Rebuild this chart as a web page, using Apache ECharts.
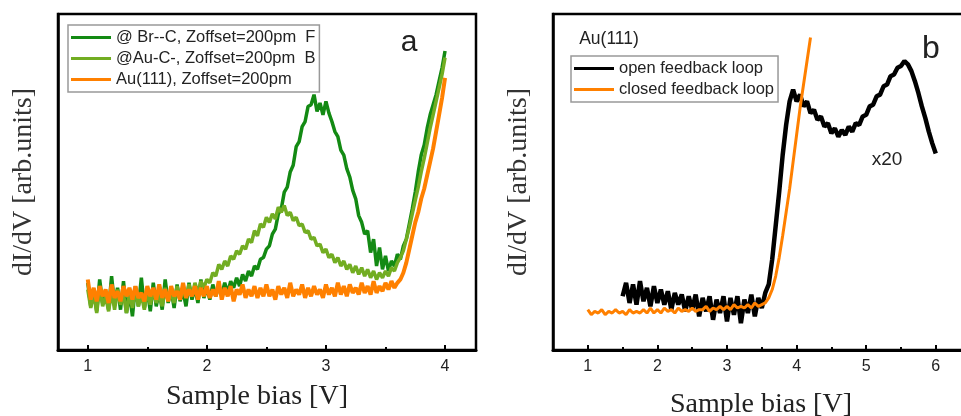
<!DOCTYPE html>
<html>
<head>
<meta charset="utf-8">
<script src="https://cdn.jsdelivr.net/npm/echarts@6/dist/echarts.min.js"></script>
<style>
  html, body { margin: 0; padding: 0; background: #fff; }
  #chart { width: 961px; height: 416px; }
</style>
</head>
<body>
<div id="chart"></div>
<script>
// panel a: bias grid 1.000 .. 4.000 V, step 0.025 V
const biasStartA = 1.0;
const biasStepA = 0.025;
const brC = [
  20, 13, 18, 11.5, 21, 14, 17, 12, 22, 13.5, 18.5, 12, 20.5, 11, 17, 10, 19, 13, 21.5, 12.5,
  18, 11.5, 20, 13, 17.5, 12, 21, 14, 18, 12.5, 19.5, 14.5, 17.5, 13, 20, 15, 18.5, 14, 21, 15.5,
  18.5, 15, 19.5, 16, 19, 16.5, 20, 17, 20.5, 18.5, 21.5, 19, 22.5, 20.5, 23.5, 22, 25, 24, 27, 27.5,
  30, 31, 34.5, 36, 40.5, 42, 47, 48.5, 53, 55, 60.5, 62, 66.5, 68, 72.5, 73, 76, 71, 73.5, 70,
  74, 70.5, 68, 65, 63.5, 59.5, 58, 54, 51.5, 47.5, 45, 40, 38, 34.5, 35.5, 29, 33, 25, 30.5, 24,
  28, 23.5, 26.5, 25, 28.5, 27, 31, 33, 37.5, 42, 47, 53, 58, 61, 66, 70, 73, 76, 80, 84, 89
];
const auC = [
  18, 12.5, 17, 11, 18.5, 13, 16, 11.5, 17.5, 12, 18, 13.5, 16.5, 11, 17, 12.5, 18, 13, 16.5, 12,
  17.5, 13.5, 18, 14, 16.5, 13, 18.5, 14.5, 17, 14, 19, 15, 18, 15.5, 19.5, 16, 20, 17, 20.5, 18.5,
  21, 20, 23, 22, 25.5, 24, 26.5, 25, 28, 27, 29.5, 28.5, 31, 30, 33, 32, 35.5, 34, 37.5, 36.5,
  39.5, 38, 40.5, 39, 42.5, 41, 43, 40, 41, 38.5, 39.5, 37, 37.5, 35, 35.5, 33, 33.5, 31, 31.5, 29,
  30, 27.5, 28.5, 26, 27.5, 25, 26.5, 24, 25.5, 23, 25, 22.5, 24.5, 22, 24, 21.5, 23.5, 21, 23, 21.5,
  23.5, 22, 24.5, 23.5, 26, 27.5, 29.5, 33, 36.5, 40.5, 44.5, 48.5, 53, 57, 61.5, 66, 70, 74, 78, 82, 87
];
const au111A = [
  21, 15, 18.5, 14.5, 19, 16, 18, 14, 19.5, 15.5, 17.5, 14.5, 19, 16, 18.5, 15, 19, 15.5, 17, 14.5,
  19, 16, 18.5, 15, 19.5, 15.5, 18, 14.5, 19, 16, 17.5, 15, 20, 15.5, 18, 16, 19, 15, 18.5, 16,
  19, 15.5, 18, 16, 20.5, 15, 18.5, 16, 19, 14.5, 18, 16.5, 19.5, 15.5, 18, 16, 19, 15.5, 18.5, 16,
  19.5, 16, 18, 15, 19, 16.5, 18.5, 15.5, 20, 16, 18, 16.5, 19.5, 15.5, 18.5, 16, 19, 16.5, 18, 15.5,
  19.5, 16.5, 18.5, 16, 20, 16.5, 19, 16, 19.5, 17, 18.5, 16.5, 20, 17, 19, 16.5, 20.5, 17, 19, 17.5,
  20, 18, 20.5, 18.5, 20, 21, 23, 26, 30, 34, 38, 41, 45, 48, 52, 56, 60, 65, 70, 75, 81
];

// panel b: step 0.05 V
const biasStepB = 0.05;
const closedStart = 1.0;
const closedLoop = [
  12, 10.5, 11.5, 11, 12, 10.5, 11.5, 11, 12, 11,
  11.5, 10.5, 12, 11, 11.5, 11, 12, 11, 12.5, 11,
  12, 11, 12.5, 11.5, 12, 11, 12.5, 11.5, 12, 11.5,
  12.5, 11.5, 12, 12, 13, 11.5, 12.5, 12, 13, 12,
  13, 12, 13.5, 12.5, 13, 12.5, 13.5, 12.5, 14, 13,
  13.5, 14, 15.5, 18, 22, 27.5, 34, 41, 48, 56, 64, 72, 79, 86, 93
];
const openStart = 1.5;
const openLoop = [
  16, 20, 14, 19.5, 13.5, 20.5, 14.5, 18.5, 13, 19,
  14, 18, 13.5, 17.5, 12, 17, 13.5, 16.5, 11.5, 16,
  12, 16.5, 10, 15.5, 11.5, 16, 9, 15, 11, 16,
  8.5, 15.5, 10.5, 16, 8, 15, 11, 16.5, 10, 15.5,
  12.5, 17, 19.5, 27, 37, 47, 58, 67, 74, 77.5,
  74, 76, 72.5, 74, 70.5, 71.5, 68.5, 69.5, 66.5, 67.5,
  64.5, 66, 63.5, 65.5, 64, 66.5, 65, 67.5, 67, 69.5,
  70, 72.5, 73, 75.5, 76, 78.5, 79, 81.5, 82, 84,
  84.5, 86, 85, 83, 80, 76.5, 72.5, 69, 65, 61.5, 58.5
];

const ticksA = [1, 2, 3, 4];
const minorTicksA = [1.5, 2.5, 3.5];
const ticksB = [1, 2, 3, 4, 5, 6];
const minorTicksB = [1.5, 2.5, 3.5, 4.5, 5.5];

function pairs(start, step, values) {
  return values.map(function (v, i) { return [+(start + i * step).toFixed(3), v]; });
}

const serif = '"Liberation Serif", "DejaVu Serif", serif';
const sans = '"Liberation Sans", Arial, sans-serif';

function mainX(grid, min, max, ticks) {
  return {
    type: 'value', gridIndex: grid, min: min, max: max, position: 'bottom',
    axisLine: { show: true, lineStyle: { color: '#000', width: 3 } },
    axisTick: { show: true, inside: true, length: 5, customValues: ticks, lineStyle: { color: '#000', width: 2 } },
    axisLabel: { customValues: ticks, fontFamily: sans, fontSize: 16, color: '#222', margin: 9 },
    splitLine: { show: false }
  };
}
function minorX(grid, min, max, ticks) {
  return {
    type: 'value', gridIndex: grid, min: min, max: max, position: 'bottom',
    axisLine: { show: false },
    axisTick: { show: true, inside: true, length: 3, customValues: ticks, lineStyle: { color: '#000', width: 2 } },
    axisLabel: { show: false },
    splitLine: { show: false }
  };
}
function yAx(grid) {
  return {
    type: 'value', gridIndex: grid, min: 0, max: 100,
    name: 'dI/dV [arb.units]', nameLocation: 'middle', nameGap: 20, nameRotate: 90,
    nameTextStyle: { fontFamily: serif, fontSize: 28, color: '#333' },
    axisLine: { show: true, lineStyle: { color: '#000', width: 2.5 } },
    axisTick: { show: false }, axisLabel: { show: false }, splitLine: { show: false }
  };
}
function line(name, xi, yi, data, color, width) {
  return {
    name: name, type: 'line', xAxisIndex: xi, yAxisIndex: yi, data: data,
    showSymbol: false, silent: true, animation: false,
    lineStyle: { color: color, width: width }, itemStyle: { color: color }
  };
}
function label(text, x, y, font) {
  return { type: 'text', x: x, y: y, style: { text: text, font: font, fill: '#222', align: 'center', verticalAlign: 'middle' } };
}

const legendText = { fontFamily: sans, fontSize: 16.5, color: '#222', lineHeight: 17 };

const chart = echarts.init(document.getElementById('chart'), null, { renderer: 'canvas' });
chart.setOption({
  backgroundColor: '#fff',
  animation: false,
  grid: [
    { left: 58, top: 14, width: 418, height: 336, show: true, borderColor: '#000', borderWidth: 2.5, outerBoundsMode: 'none' },
    { left: 553, top: 14, width: 412, height: 336, show: true, borderColor: '#000', borderWidth: 2.5, outerBoundsMode: 'none' }
  ],
  xAxis: [
    mainX(0, 0.75, 4.26, ticksA),
    minorX(0, 0.75, 4.26, minorTicksA),
    mainX(1, 0.5, 6.42, ticksB),
    minorX(1, 0.5, 6.42, minorTicksB)
  ],
  yAxis: [yAx(0), yAx(1)],
  legend: [
    {
      data: ['@ Br--C, Zoffset=200pm  F', '@Au-C-, Zoffset=200pm  B', 'Au(111), Zoffset=200pm'],
      orient: 'vertical', left: 68, top: 25, icon: 'rect', itemWidth: 40, itemHeight: 3, itemGap: 4,
      padding: [4, 4, 4, 3], borderColor: '#999', borderWidth: 1.5, selectedMode: false,
      textStyle: legendText
    },
    {
      data: ['open feedback loop', 'closed feedback loop'],
      orient: 'vertical', left: 571, top: 56, icon: 'rect', itemWidth: 40, itemHeight: 3, itemGap: 4,
      padding: [4, 4, 4, 3], borderColor: '#999', borderWidth: 1.5, selectedMode: false,
      textStyle: legendText
    }
  ],
  graphic: [
    label('Sample bias [V]', 257, 397, '28px ' + serif),
    label('Sample bias [V]', 761, 405, '28px ' + serif),
    label('a', 409, 43, '30px ' + sans),
    label('b', 931, 49, '32px ' + sans),
    label('x20', 887, 160, '19px ' + sans),
    label('Au(111)', 609, 39, '17.5px ' + sans)
  ],
  series: [
    line('@ Br--C, Zoffset=200pm  F', 0, 0, pairs(biasStartA, biasStepA, brC), '#138a13', 3.5),
    line('@Au-C-, Zoffset=200pm  B', 0, 0, pairs(biasStartA, biasStepA, auC), '#72ad22', 3.5),
    line('Au(111), Zoffset=200pm', 0, 0, pairs(biasStartA, biasStepA, au111A), '#ff8000', 4),
    line('open feedback loop', 2, 1, pairs(openStart, biasStepB, openLoop), '#000', 4.5),
    line('closed feedback loop', 2, 1, pairs(closedStart, biasStepB, closedLoop), '#ff8000', 3)
  ]
});
</script>
</body>
</html>
